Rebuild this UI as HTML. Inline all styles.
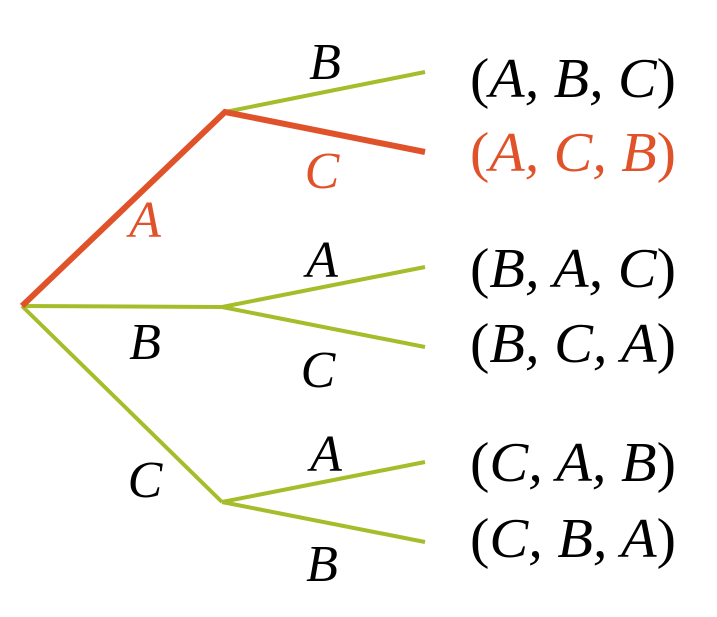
<!DOCTYPE html>
<html><head><style>
html,body{margin:0;padding:0;background:#fff;}
svg{display:block;}
text{font-family:"Liberation Serif",serif;font-style:italic;}
.u{font-style:normal;}
</style></head><body>
<svg width="717" height="617" viewBox="0 0 717 617" xmlns="http://www.w3.org/2000/svg">
<g stroke="#A6BD2B" stroke-width="4" fill="none" stroke-linecap="butt">
<line x1="22" y1="306" x2="222" y2="307"/>
<line x1="22" y1="306" x2="222" y2="502"/>
<line x1="225" y1="112" x2="425" y2="72"/>
<line x1="222" y1="307" x2="425" y2="267"/>
<line x1="222" y1="307" x2="425" y2="347"/>
<line x1="222" y1="502" x2="425" y2="462"/>
<line x1="222" y1="502" x2="425" y2="542"/>
</g>
<g stroke="#E0532A" stroke-width="6" fill="none" stroke-linejoin="miter">
<polyline points="22,306 225,112 425,152"/>
</g>
<g font-size="52" text-anchor="middle" fill="#000">
<text x="325" y="79">B</text>
<text x="322" y="188" fill="#E0532A">C</text>
<text x="145" y="237" fill="#E0532A">A</text>
<text x="322" y="277">A</text>
<text x="145" y="359">B</text>
<text x="318" y="387">C</text>
<text x="326" y="471">A</text>
<text x="145" y="497">C</text>
<text x="322" y="581">B</text>
</g>
<g font-size="56" fill="#000">
<text x="470" y="97" textLength="206" lengthAdjust="spacingAndGlyphs"><tspan class="u">(</tspan>A, B, C<tspan class="u">)</tspan></text>
<text x="470" y="171" textLength="206" lengthAdjust="spacingAndGlyphs" fill="#E0532A"><tspan class="u">(</tspan>A, C, B<tspan class="u">)</tspan></text>
<text x="470" y="287" textLength="206" lengthAdjust="spacingAndGlyphs"><tspan class="u">(</tspan>B, A, C<tspan class="u">)</tspan></text>
<text x="470" y="362" textLength="206" lengthAdjust="spacingAndGlyphs"><tspan class="u">(</tspan>B, C, A<tspan class="u">)</tspan></text>
<text x="470" y="481" textLength="206" lengthAdjust="spacingAndGlyphs"><tspan class="u">(</tspan>C, A, B<tspan class="u">)</tspan></text>
<text x="470" y="557" textLength="206" lengthAdjust="spacingAndGlyphs"><tspan class="u">(</tspan>C, B, A<tspan class="u">)</tspan></text>
</g>
</svg>
</body></html>
